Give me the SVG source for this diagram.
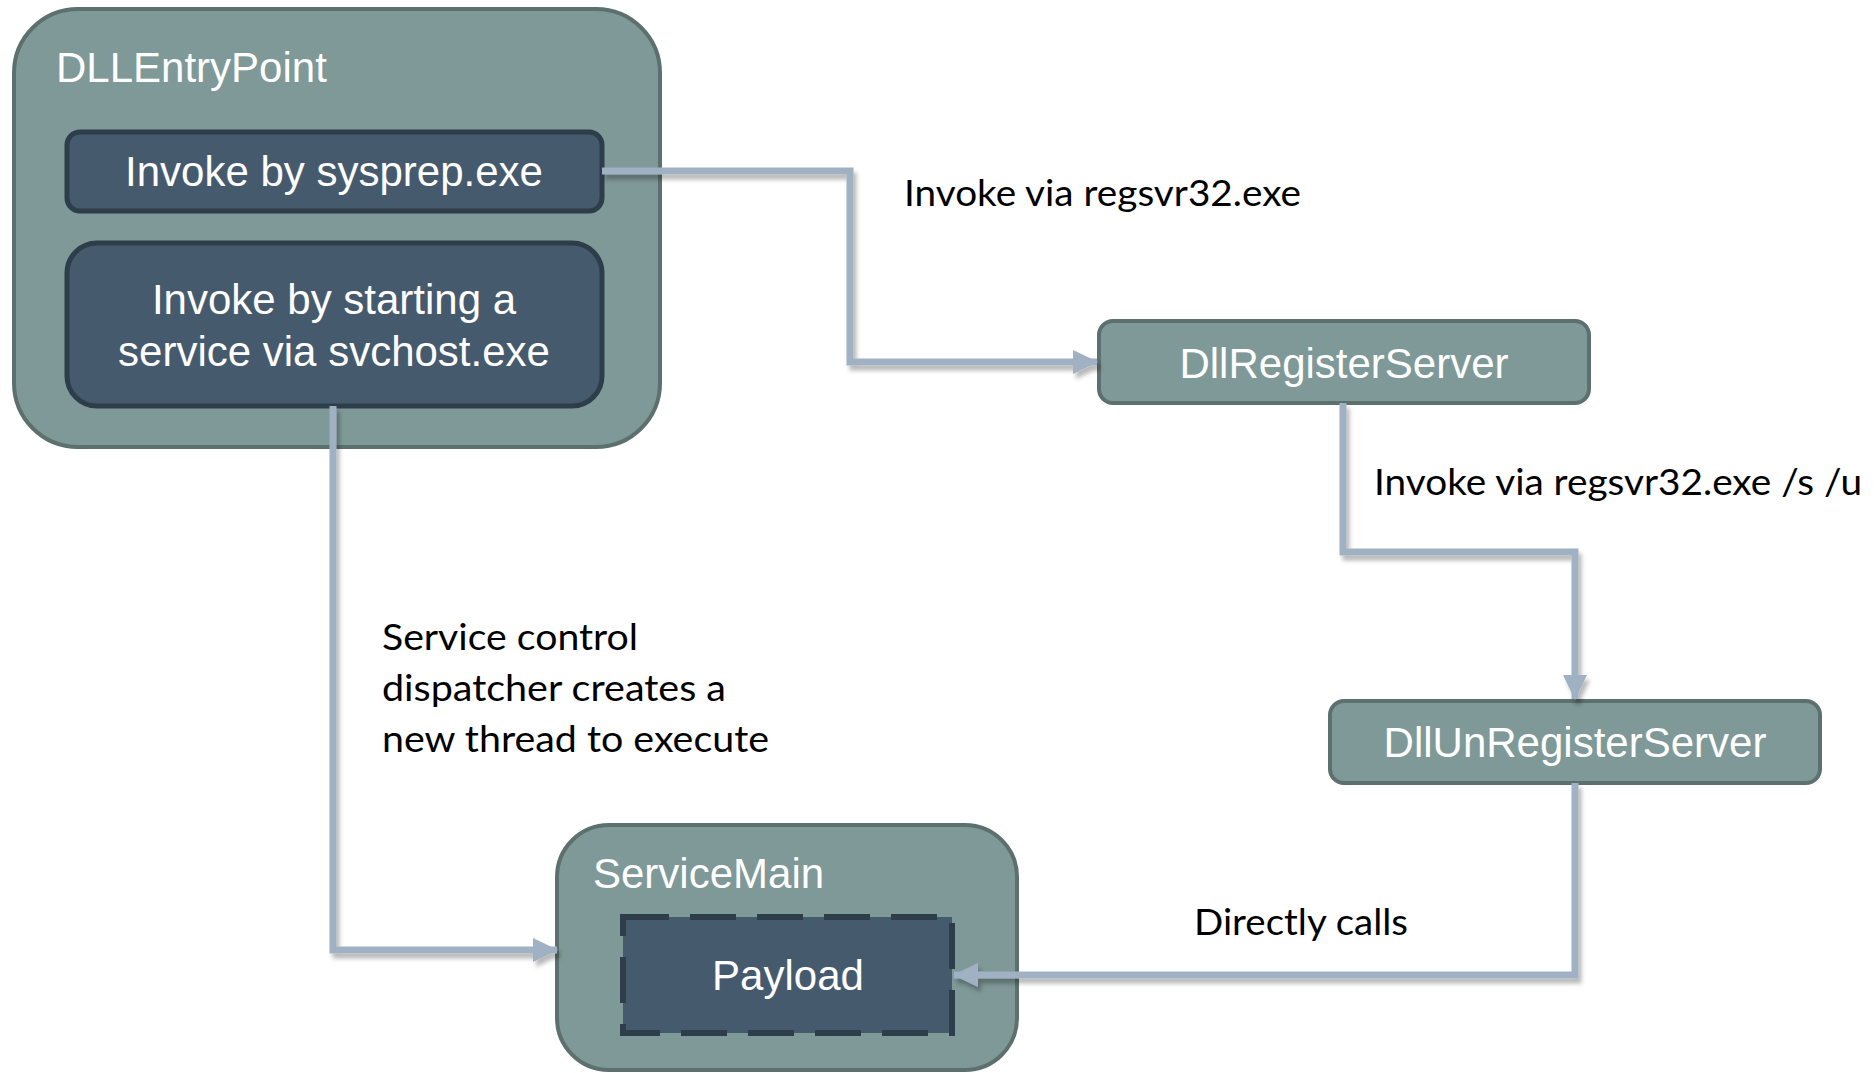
<svg xmlns="http://www.w3.org/2000/svg" width="1874" height="1073" viewBox="0 0 1874 1073">
<defs>
<style>
.outer{fill:#7e9997;stroke:#5c716e;stroke-width:4}
.inner{fill:#465a6e;stroke:#2e3d4a;stroke-width:5}
.dash{fill:#465a6e;stroke:#2e3d4a;stroke-width:6;stroke-dasharray:46 21}
.nt{font-family:"Liberation Sans",Arial,sans-serif;font-size:42px;fill:#ffffff}
.mid{text-anchor:middle}
.lbl{font-family:Lato,"Open Sans",sans-serif;font-size:37px;fill:#000000}
.con{fill:none;stroke:#9fb1c2;stroke-width:7;stroke-linejoin:miter}
</style>
<marker id="arr" markerUnits="userSpaceOnUse" markerWidth="26" markerHeight="26" viewBox="0 0 26 26" refX="24" refY="13" orient="auto">
<path d="M0,1 L25,13 L0,25 Z" fill="#9fb1c2"/>
</marker>
<filter id="sh" filterUnits="userSpaceOnUse" x="0" y="0" width="1874" height="1073">
<feDropShadow dx="3" dy="5" stdDeviation="2" flood-color="#000" flood-opacity="0.28"/>
</filter>
</defs>
<rect width="1874" height="1073" fill="#ffffff"/>

<g id="dllentrypoint">
<rect class="outer" x="14" y="9" width="646" height="438" rx="64"/>
<text class="nt" x="56" y="82">DLLEntryPoint</text>
</g>
<g id="sysprep">
<rect class="inner" x="67" y="132" width="535" height="79" rx="13"/>
<text class="nt mid" x="334" y="186">Invoke by sysprep.exe</text>
</g>
<g id="svchost">
<rect class="inner" x="67" y="243" width="535" height="163" rx="30"/>
<text class="nt mid" x="334" y="314">Invoke by starting a</text>
<text class="nt mid" x="334" y="366">service via svchost.exe</text>
</g>
<g id="dllregisterserver">
<rect class="outer" x="1099" y="321" width="490" height="82" rx="14"/>
<text class="nt mid" x="1344" y="378">DllRegisterServer</text>
</g>
<g id="dllunregisterserver">
<rect class="outer" x="1330" y="701" width="490" height="82" rx="14"/>
<text class="nt mid" x="1575" y="757">DllUnRegisterServer</text>
</g>
<g id="servicemain">
<rect class="outer" x="557" y="825" width="460" height="245" rx="52"/>
<text class="nt" x="593" y="888">ServiceMain</text>
</g>
<g id="payload">
<rect class="dash" x="623" y="917" width="329" height="116"/>
<text class="nt mid" x="788" y="990">Payload</text>
</g>

<g id="connectors" filter="url(#sh)">
<path class="con" d="M602,171 H850 V362 H1097" marker-end="url(#arr)"/>
<path class="con" d="M1343,403 V552 H1575 V699" marker-end="url(#arr)"/>
<path class="con" d="M1575,783 V975 H954" marker-end="url(#arr)"/>
<path class="con" d="M333,406 V950 H557" marker-end="url(#arr)"/>
</g>

<g id="labels">
<text class="lbl" x="904" y="206" textLength="397" lengthAdjust="spacingAndGlyphs">Invoke via regsvr32.exe</text>
<text class="lbl" x="1374" y="495" textLength="488" lengthAdjust="spacingAndGlyphs">Invoke via regsvr32.exe /s /u</text>
<text class="lbl" x="382" y="650" textLength="256" lengthAdjust="spacingAndGlyphs">Service control</text>
<text class="lbl" x="382" y="701" textLength="344" lengthAdjust="spacingAndGlyphs">dispatcher creates a</text>
<text class="lbl" x="382" y="752" textLength="387" lengthAdjust="spacingAndGlyphs">new thread to execute</text>
<text class="lbl" x="1194" y="935" textLength="214" lengthAdjust="spacingAndGlyphs">Directly calls</text>
</g>
</svg>
